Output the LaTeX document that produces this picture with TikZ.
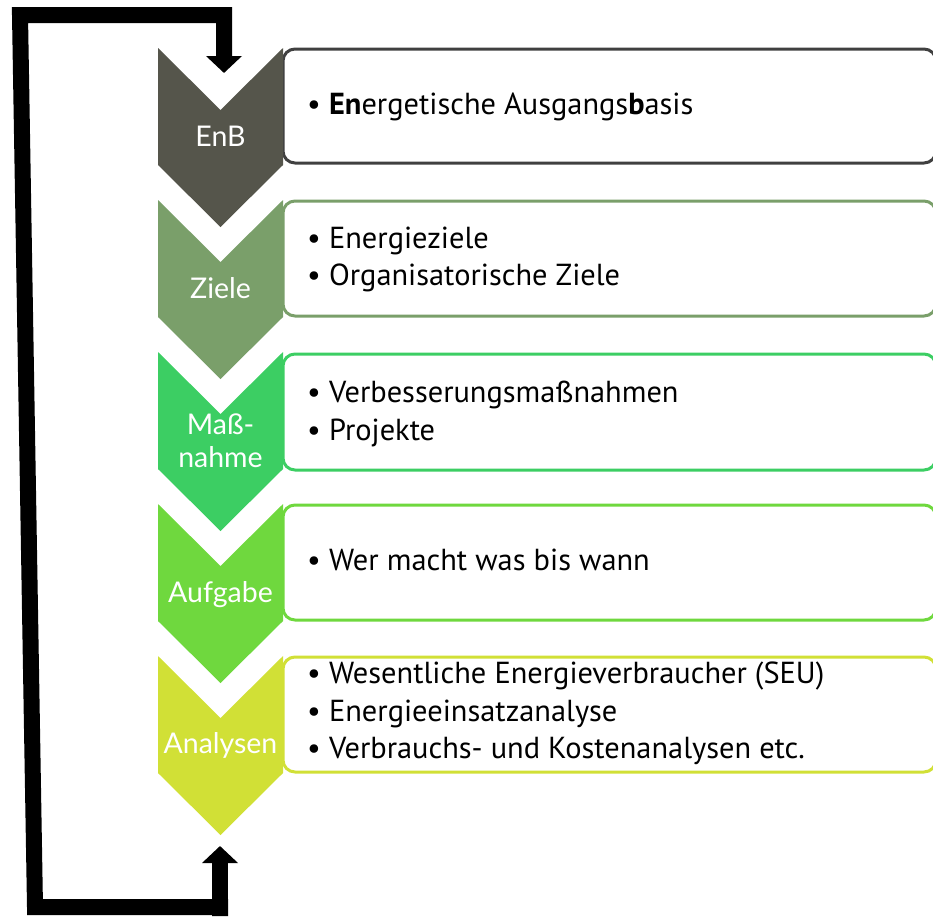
\documentclass[tikz,border=0pt]{standalone}
\usepackage{fontspec}
\setmainfont{PT Sans}
\newfontfamily\lightf{Lato}
\usetikzlibrary{arrows.meta}
\definecolor{cA}{HTML}{55554B}
\definecolor{cAb}{HTML}{404040}
\definecolor{cB}{HTML}{7A9F6A}
\definecolor{cC}{HTML}{3CCE63}
\definecolor{cD}{HTML}{6FD83E}
\definecolor{cE}{HTML}{D1E036}
\tikzset{
  boxline/.style={line width=3pt, rounded corners=12pt, fill=white},
  bodytext/.style={anchor=base west, inner sep=0pt, font=\fontsize{30.4}{37}\selectfont, text=black},
  chevtext/.style={anchor=base, inner sep=0pt, font=\lightf\fontsize{28.5}{33}\selectfont, text=white},
}
\newcommand{\chev}[2]{% top y, colour
  \fill[#2] (158,#1) -- (220.5,#1+62) -- (283,#1) -- (283,#1+117) -- (220.5,#1+179) -- (158,#1+117) -- cycle;}
\begin{document}
\begin{tikzpicture}[x=1pt,y=-1pt]
\useasboundingbox (0,0) rectangle (933,916);
\clip (0,0) rectangle (933,916);
% boxes
\draw[boxline, draw=cAb] (283,49) rectangle (936,163);
\draw[boxline, draw=cB] (283,201) rectangle (936,316);
\draw[boxline, draw=cC] (283,354) rectangle (936,470);
\draw[boxline, draw=cD] (283,505) rectangle (936,620);
\draw[boxline, draw=cE] (283,657) rectangle (936,772);
% chevrons
\chev{48}{cA}
\chev{200}{cB}
\chev{352}{cC}
\chev{504}{cD}
\chev{656}{cE}
% chevron labels
\node[chevtext] (lA) at (220.5,146) {EnB};
\node[chevtext] (lB) at (220.5,298) {Ziele};
\node[chevtext] (lC1) at (220.5,434) {Maß-};
\node[chevtext] (lC2) at (220.5,467) {nahme};
\node[chevtext] (lD) at (220.5,602) {Aufgabe};
\node[chevtext] (lE) at (220.5,753) {Analysen};
% box texts
\node[bodytext] (tA) at (307,114) {• \textbf{En}ergetische Ausgangs\textbf{b}asis};
\node[bodytext] (tB1) at (307,248) {• Energieziele};
\node[bodytext] (tB2) at (307,285) {• Organisatorische Ziele};
\node[bodytext] (tC1) at (307,402) {• Verbesserungsmaßnahmen};
\node[bodytext] (tC2) at (307,440) {• Projekte};
\node[bodytext] (tD) at (307,570) {• Wer macht was bis wann};
\node[bodytext] (tE1) at (307,683) {• Wesentliche Energieverbraucher (SEU)};
\node[bodytext] (tE2) at (307,721) {• Energieeinsatzanalyse};
\node[bodytext] (tE3) at (307,758) {• Verbrauchs- und Kostenanalysen etc.};
% feedback loop
\coordinate (loopstart) at (220,916);
\coordinate (loopend) at (224,73);
\draw[line width=16pt, line join=miter] (220,916) -- (220,907) -- (35,907) -- (20,15) -- (224,15) -- (224,60);
\draw[line width=16pt, -{Triangle[width=35pt,length=17pt]}] (224,40) -- (loopend);
\draw[line width=16pt, -{Triangle[width=35pt,length=17pt]}] (loopstart) -- (220,846);
\end{tikzpicture}
\end{document}
